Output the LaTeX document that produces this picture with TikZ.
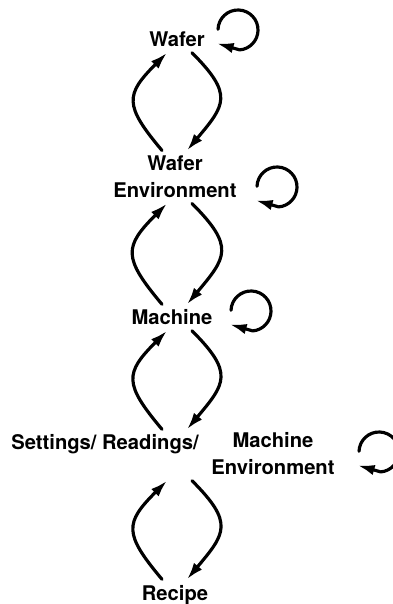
\documentclass[tikz,border=0pt]{standalone}
\usepackage{fontspec}
\setmainfont{TeX Gyre Heros}
\usetikzlibrary{arrows.meta,calc}
\tikzset{
    every picture/.style={line cap=round,line join=round},
    statelabel/.style={font=\bfseries\fontsize{11.5}{15.3}\selectfont,
      align=center,inner sep=3pt},
    flowarrow/.style={-{Latex[length=3.4mm,width=2.1mm]},draw=black,
      line width=1.8pt},
    upbend/.style={out=130,in=-135,looseness=1.55},
    downbend/.style={out=-45,in=50,looseness=1.55}
}
\begin{document}
\begin{tikzpicture}[x=0.02cm,y=0.02cm]
  \useasboundingbox (0,0) rectangle (392,604);
  \coordinate (axis) at (177,0);
  \node[statelabel,anchor=base] (wafer) at (177,557) {Wafer};
  \node[statelabel] (wenv) at (175,427) {Wafer\\Environment};
  \node[statelabel,anchor=base] (machine) at (172,279) {Machine};
  \node[statelabel,anchor=base] (settings) at (105,154) {Settings/ Readings/};
  \node[statelabel] (menv) at (273,150) {Machine\\Environment};
  \node[statelabel,anchor=base] (recipe) at (175,4) {Recipe};
  % two-way links down the column
  \foreach \up/\down in {wafer.south/wenv.north,wenv.south/machine.north,
      machine.south/settings.north,menv.south/recipe.north} {
    \draw[flowarrow] ($(\down -| axis)+(-15,0)$) to[upbend]
      ($(\up -| axis)+(-10,0)$);
    \draw[flowarrow] ($(\up -| axis)+(15,0)$) to[downbend]
      ($(\down -| axis)+(10,0)$);
  }
  % self loops
  \coordinate (waferloop) at (238,574);
  \coordinate (wenvloop) at (277,417);
  \coordinate (machineloop) at (251,293);
  \coordinate (menvloop) at (379,152);
  \foreach \c in {waferloop,wenvloop,machineloop,menvloop} {
    \draw[flowarrow] (\c) ++(178:20) arc[start angle=178,end angle=-85,radius=20]
      -- ++(164:24);
  }
\end{tikzpicture}
\end{document}
